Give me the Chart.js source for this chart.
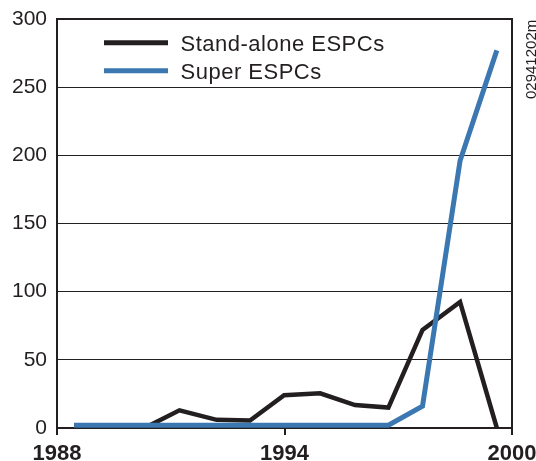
<!DOCTYPE html>
<html>
<head>
<meta charset="utf-8">
<script src="https://cdn.jsdelivr.net/npm/chart.js@4.4.0/dist/chart.umd.min.js"></script>
<style>
  html, body { margin: 0; padding: 0; background: #fff; }
  #wrap { width: 536px; height: 461px; }
</style>
</head>
<body>
<div id="wrap"><canvas id="espcChart" width="536" height="461"></canvas></div>
<script>
// anni (posizioni)
const years = [1988.45, 1989.4, 1990.45, 1991.23, 1992.21, 1993.09, 1993.99, 1994.94, 1995.86, 1996.74, 1997.64, 1998.63, 1999.6];
// serie
const standAlone = [2, 2, 2, 13, 6, 5.5, 24, 25.4, 16.8, 15, 72, 92.5, 0];
const superEspc = [2, 2, 2, 2, 2, 2, 2, 2, 2, 2, 16, 196, 277];
const seriesNames = ['Stand-alone ESPCs', 'Super ESPCs'];
const xTicks = [1988, 1994, 2000];
const yMax = 300;
const figureCode = '02941202m';

const ink = '#231f20';
const blue = '#3b77b0';
const font = '"Liberation Sans", Arial, Helvetica, sans-serif';

//cornice, legenda e codice figura
const extras = {
    id: 'extras',
    beforeDatasetsDraw(chart) {
        const { ctx, chartArea: a } = chart;
        ctx.save();
        ctx.strokeStyle = ink;
        ctx.lineWidth = 2;
        ctx.strokeRect(a.left, a.top, a.right - a.left, a.bottom - a.top);
        ctx.restore();
    },
    afterDraw(chart) {
        const ctx = chart.ctx;
        ctx.save();
        const rows = [[seriesNames[0], ink, 42.7, 50.5], [seriesNames[1], blue, 70.7, 79]];
        rows.forEach(([name, color, ly, ty]) => {
            ctx.strokeStyle = color;
            ctx.lineWidth = 5;
            ctx.beginPath();
            ctx.moveTo(104, ly);
            ctx.lineTo(168, ly);
            ctx.stroke();
            ctx.fillStyle = ink;
            ctx.font = '22px ' + font;
            ctx.letterSpacing = '0.5px';
            ctx.textAlign = 'left';
            ctx.textBaseline = 'alphabetic';
            ctx.fillText(name, 180.5, ty);
        });
        ctx.letterSpacing = '0px';
        ctx.translate(536, 99);
        ctx.rotate(-Math.PI / 2);
        ctx.font = '15px ' + font;
        ctx.fillText(figureCode, 0, 0);
        ctx.restore();
    }
};

const ctx = document.getElementById('espcChart').getContext('2d');
new Chart(ctx, {
    type: 'line',
    data: {
        datasets: [{
            label: seriesNames[0],
            data: years.map((y, i) => ({ x: y, y: standAlone[i] })),
            borderColor: ink,
            borderWidth: 4.5,
            pointRadius: 0,
            tension: 0,
            order: 1
        }, {
            label: seriesNames[1],
            data: years.map((y, i) => ({ x: y, y: superEspc[i] })),
            borderColor: blue,
            borderWidth: 5,
            pointRadius: 0,
            tension: 0,
            order: 0
        }]
    },
    options: {
        responsive: false,
        animation: false,
        layout: { padding: { top: 19, right: 24, left: 0, bottom: 0 } },
        plugins: { legend: { display: false }, tooltip: { enabled: false } },
        scales: {
            x: {
                type: 'linear',
                min: xTicks[0],
                max: xTicks[xTicks.length - 1],
                afterBuildTicks: (scale) => { scale.ticks = xTicks.map(v => ({ value: v })); },
                afterFit: (scale) => { scale.height = 33; scale.paddingLeft = 0; scale.paddingRight = 0; },
                border: { display: false },
                grid: { drawOnChartArea: false, drawTicks: true, tickLength: 7, color: ink, lineWidth: 2 },
                ticks: {
                    color: ink,
                    padding: 6,
                    maxRotation: 0,
                    font: { family: font, size: 22, weight: 'bold' },
                    callback: (v) => String(v)
                }
            },
            y: {
                min: 0,
                max: yMax,
                afterFit: (scale) => { scale.width = 57; scale.paddingTop = 0; scale.paddingBottom = 0; },
                border: { display: false },
                grid: { drawTicks: false, color: ink, lineWidth: 1 },
                ticks: {
                    stepSize: 50,
                    color: ink,
                    padding: 10,
                    font: { family: font, size: 21 }
                }
            }
        }
    },
    plugins: [extras]
});
</script>
</body>
</html>
